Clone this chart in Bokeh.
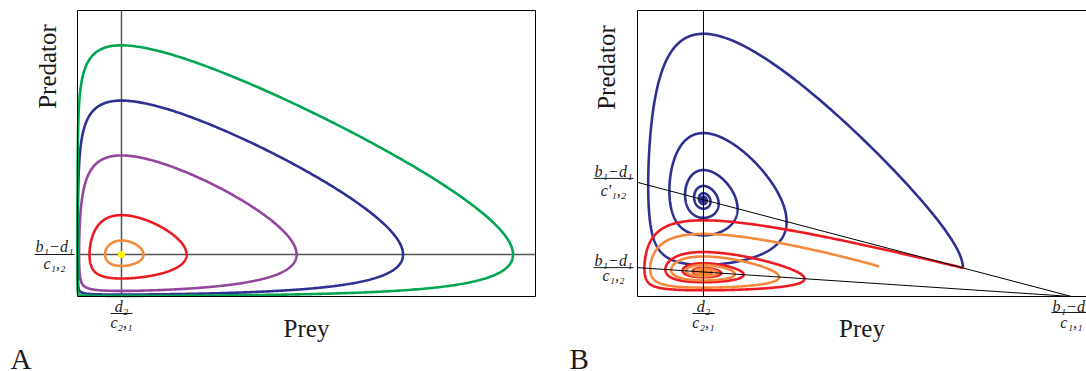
import math
import numpy as np
from bokeh.plotting import figure
from bokeh.layouts import row
from bokeh.models import Range1d, FixedTicker, Label, Arrow, LinearAxis
from bokeh.embed import file_html
from bokeh.resources import INLINE

# ---------------- data ----------------
# Panel A: Lotka-Volterra, prey and predator in units of their equilibria
a_prey_equilibrium = 1.0            # d2 / c21
a_pred_equilibrium = 1.0            # (b1-d1) / c12
a_orbit_prey_max = [1.5, 2.48, 4.98, 7.4, 9.9]   # rightmost prey value of each closed orbit
a_orbit_colors = ["#F58A3C", "#ED1C24", "#92479C", "#2E3192", "#00A651"]
a_rate_ratio = 2.07                 # (b1-d1) / d2
a_prey_limit = 10.41
a_pred_limit = 6.81

# Panel B: logistic prey (capacity (b1-d1)/c11 = 1)
b_prey_capacity = 1.0
b_prey_equilibrium = 0.152          # d2 / c21
b_nullcline_intercepts = [0.399, 0.101]   # (b1-d1)/c'12 , (b1-d1)/c12
b_traj_intercept = [0.399, 0.101, 0.101]
b_traj_prey0 = [0.75, 0.75, 0.557]
b_traj_pred0 = [0.10, 0.10, 0.105]
b_traj_colors = ["#2E3192", "#ED1C24", "#F58A3C"]
b_rate_ratio = 1.95
b_prey_limit = 1.0346
b_pred_limit = 1.0

SERIF = "Liberation Serif"
TXT = "#1a1a1a"


def integrate(f, u, v, dt, n, stop=None):
    us = [u]
    vs = [v]
    for i in range(n):
        k1u, k1v = f(u, v)
        k2u, k2v = f(u + 0.5 * dt * k1u, v + 0.5 * dt * k1v)
        k3u, k3v = f(u + 0.5 * dt * k2u, v + 0.5 * dt * k2v)
        k4u, k4v = f(u + dt * k3u, v + dt * k3v)
        nu = u + dt / 6 * (k1u + 2 * k2u + 2 * k3u + k4u)
        nv = v + dt / 6 * (k1v + 2 * k2v + 2 * k3v + k4v)
        done = stop is not None and i > 100 and stop(u, v, nu, nv)
        u, v = nu, nv
        us.append(u)
        vs.append(v)
        if done:
            break
    us = np.array(us)[::3]
    vs = np.array(vs)[::3]
    return np.exp(us), np.exp(vs)


def fa(u, v):
    return (a_rate_ratio * (1 - math.exp(v) / a_pred_equilibrium),
            math.exp(u) / a_prey_equilibrium - 1)


def make_fb(y0):
    def fb(u, v):
        x = math.exp(u)
        y = math.exp(v)
        return (b_rate_ratio * (1 - x / b_prey_capacity) - b_rate_ratio / y0 * y,
                x / b_prey_equilibrium - 1)
    return fb


def panel(width, box_left, box_right, xmax, ymax):
    # whole canvas is the frame; the plot box is drawn by axes fixed at the data limits
    box_top, box_bottom, height = 10, 296, 371
    sx = (box_right - box_left) / xmax
    sy = (box_bottom - box_top) / ymax
    p = figure(width=width, height=height,
               x_range=Range1d(-box_left / sx, (width - box_left) / sx),
               y_range=Range1d(-(height - box_bottom) / sy, box_bottom / sy),
               output_backend="svg", toolbar_location=None,
               min_border=0, min_border_left=0, min_border_right=0,
               min_border_top=0, min_border_bottom=0)
    p.grid.visible = False
    p.outline_line_color = None
    p.background_fill_color = "white"
    p.border_fill_color = "white"
    return p, sx, sy


def style_axis(ax, loc, bounds):
    ax.fixed_location = loc
    ax.bounds = bounds
    ax.ticker = FixedTicker(ticks=[])
    ax.axis_line_color = "black"
    ax.axis_line_width = 1


def frac(p, sx, sy, x, y, num, den, dx, dyn, dyb, dyd, half_w, size="16px"):
    for t, dy in ((num, dyn), (den, dyd)):
        p.add_layout(Label(x=x, y=y, x_offset=dx, y_offset=dy, text=t,
                           text_font=SERIF, text_font_style="italic",
                           text_font_size=size, text_align="center",
                           text_baseline="middle", text_color=TXT))
    p.add_layout(Arrow(x_start=x + (dx - half_w) / sx, x_end=x + (dx + half_w) / sx,
                       y_start=y + dyb / sy, y_end=y + dyb / sy,
                       start=None, end=None, line_color=TXT, line_width=1))


def text(p, x, y, dx, dy, t, size, angle=0.0, align="center", baseline="middle"):
    p.add_layout(Label(x=x, y=y, x_offset=dx, y_offset=dy, text=t, angle=angle,
                       text_font=SERIF, text_font_size=size, text_align=align,
                       text_baseline=baseline, text_color=TXT))


# ---------------- panel A ----------------
pa, sxa, sya = panel(546, 77, 535, a_prey_limit, a_pred_limit)
style_axis(pa.xaxis[0], 0, (0, a_prey_limit))
style_axis(pa.yaxis[0], 0, (0, a_pred_limit))
a_top = LinearAxis()
a_right = LinearAxis()
pa.add_layout(a_top, "above")
pa.add_layout(a_right, "right")
style_axis(a_top, a_pred_limit, (0, a_prey_limit))
style_axis(a_right, a_prey_limit, (0, a_pred_limit))

pa.line([a_prey_equilibrium, a_prey_equilibrium], [0, a_pred_limit], line_color="#555555", line_width=1.5)
pa.line([0, a_prey_limit], [a_pred_equilibrium, a_pred_equilibrium], line_color="#555555", line_width=1.5)
for xm, col in zip(a_orbit_prey_max, a_orbit_colors):
    stop = lambda u, v, nu, nv: v < 0 <= nv and nu > 0
    xs, ys = integrate(fa, math.log(xm), 0.0, 0.001, 200000, stop)
    pa.line(xs, ys, line_color=col, line_width=2.6)
pa.scatter([a_prey_equilibrium], [a_pred_equilibrium], size=7, color="#FFF200", line_color=None)

frac(pa, sxa, sya, 0, a_pred_equilibrium, "b₁−d₁", "c₁,₂", -23, 8, 0, -9, 20)
frac(pa, sxa, sya, a_prey_equilibrium, 0, "d₂", "c₂,₁", 0, -10, -17, -26, 11)
text(pa, a_prey_limit / 2, 0, 0, -32, "Prey", "25px")
text(pa, 0, a_pred_limit, -30, -56, "Predator", "25px", angle=math.pi / 2)
text(pa, 0, 0, -67, -62, "A", "29px", align="left")

# ---------------- panel B ----------------
pb, sxb, syb = panel(540, 91, 540, b_prey_limit, b_pred_limit)
style_axis(pb.xaxis[0], 0, (0, b_prey_limit))
style_axis(pb.yaxis[0], 0, (0, b_pred_limit))
b_top = LinearAxis()
pb.add_layout(b_top, "above")
style_axis(b_top, b_pred_limit, (0, b_prey_limit))

for y0, x0, yy0, col in zip(b_traj_intercept, b_traj_prey0, b_traj_pred0, b_traj_colors):
    xs, ys = integrate(make_fb(y0), math.log(x0), math.log(yy0), 0.002, 30000)
    pb.line(xs, ys, line_color=col, line_width=2.6)

pb.line([b_prey_equilibrium, b_prey_equilibrium], [0, b_pred_limit], line_color="black", line_width=1)
for y0 in b_nullcline_intercepts:
    pb.line([0, b_prey_capacity], [y0, 0], line_color="black", line_width=1)

frac(pb, sxb, syb, 0, b_nullcline_intercepts[0], "b₁−d₁", "c′₁,₂", -24, 11, 4, -8, 20)
frac(pb, sxb, syb, 0, b_nullcline_intercepts[1], "b₁−d₁", "c₁,₂", -24, 7, 0, -8, 20)
frac(pb, sxb, syb, b_prey_equilibrium, 0, "d₂", "c₂,₁", 0, -10, -17, -26, 11)
frac(pb, sxb, syb, b_prey_capacity, 0, "b₁−d₁", "c₁,₁", 0, -10, -16, -26, 20)
text(pb, b_prey_limit / 2, 0, 0, -32, "Prey", "25px")
text(pb, 0, b_pred_limit, -31, -57, "Predator", "25px", angle=math.pi / 2)
text(pb, 0, 0, -68, -62, "B", "29px", align="left")

layout = row(pa, pb)
open("out.html", "w").write(file_html(layout, INLINE))
